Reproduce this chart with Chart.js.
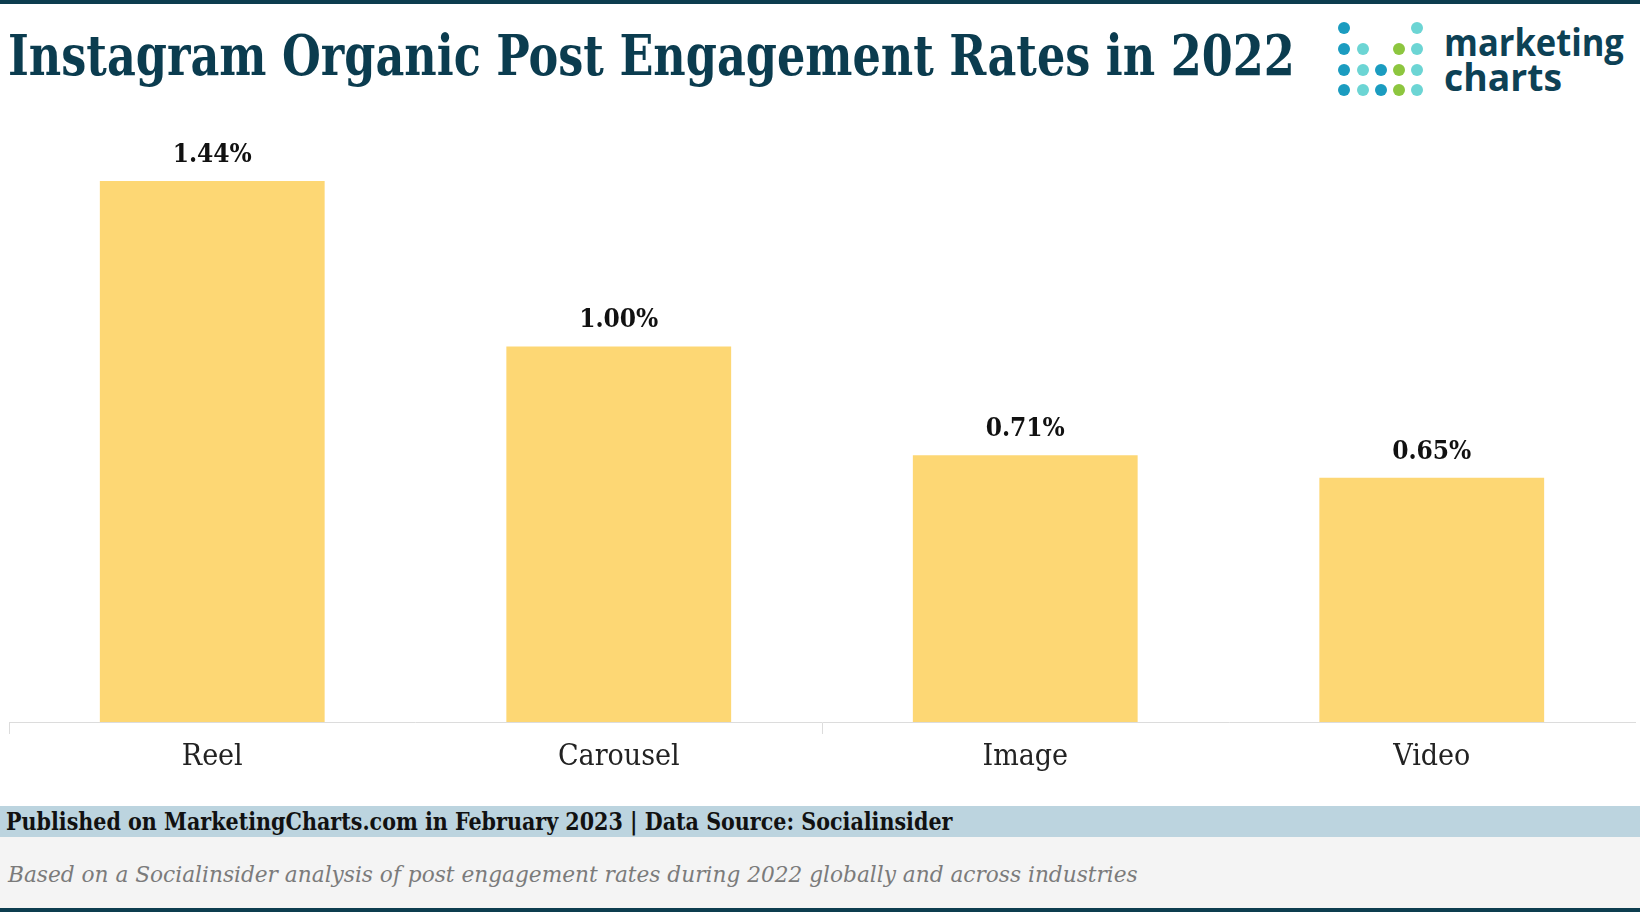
<!DOCTYPE html>
<html>
<head>
<meta charset="utf-8">
<script src="https://cdn.jsdelivr.net/npm/chart.js@4.4.0/dist/chart.umd.min.js"></script>
<style>
  body { margin: 0; width: 1640px; height: 912px; position: relative; overflow: hidden; background: #fff; }
  .abs { position: absolute; white-space: nowrap; }
  .slab { font-family: 'DejaVu Serif Condensed', 'DejaVu Serif', serif; }
  #title { left: 8px; top: 27px; font-size: 56px; line-height: 56px; font-weight: bold; color: #0b3c4f; transform-origin: 0 0; }
  .logoTxt { font-family: 'Open Sans', sans-serif; font-weight: bold; font-size: 37px; line-height: 37px; color: #0d4155; transform-origin: 0 0; }
  .dot { position: absolute; width: 12px; height: 12px; border-radius: 6px; }
  #pub { left: 6px; top: 806px; font-size: 24px; line-height: 31px; font-weight: bold; color: #111; transform-origin: 0 0; }
  #note { left: 8px; top: 859px; font-size: 23px; line-height: 30px; font-style: italic; color: #7b7b7b; transform-origin: 0 0; }
</style>
</head>
<body>
<div class="abs" style="left:0;top:0;width:1640px;height:4px;background:#0d3d4f"></div>
<div id="title" class="abs slab">Instagram Organic Post Engagement Rates in 2022</div>

<div id="logo"></div>
<div id="mk" class="abs logoTxt" style="left:1444px;top:23px">marketing</div>
<div id="ch" class="abs logoTxt" style="left:1444px;top:58px">charts</div>

<canvas id="myChart" width="1640" height="800" style="position:absolute;left:0;top:0"></canvas>

<div class="abs" style="left:0;top:806px;width:1640px;height:31px;background:#bcd4df"></div>
<div class="abs" style="left:0;top:837px;width:1640px;height:71px;background:#f4f4f4"></div>
<div id="pub" class="abs slab">Published on MarketingCharts.com in February 2023 | Data Source: Socialinsider</div>
<div id="note" class="abs slab">Based on a Socialinsider analysis of post engagement rates during 2022 globally and across industries</div>
<div class="abs" style="left:0;top:908px;width:1640px;height:4px;background:#0d3d4f"></div>

<script>
var categories = ['Reel', 'Carousel', 'Image', 'Video']
var rates = [1.44, 1.00, 0.71, 0.65]

// stretch a text line to the width it has in the original
function fit(id, w) {
  var el = document.getElementById(id)
  el.style.transform = 'scaleX(' + (w / el.offsetWidth) + ')'
}
fit('title', 1287)
fit('pub', 946)
fit('note', 1130)
fit('mk', 180)
fit('ch', 118)

// logo dots
var dotCols = [1344, 1363, 1381, 1399, 1417]
var dotRows = [28, 49, 70, 90]
var dotColors = ['#1b9cc0', '#6cd5d4', '#1b9cc0', '#8dc63f', '#6cd5d4']
var dotFrom = [0, 1, 2, 1, 0]
var logo = document.getElementById('logo')
for (let c = 0; c < dotCols.length; c++) {
  for (let r = dotFrom[c]; r < dotRows.length; r++) {
    let d = document.createElement('div')
    d.className = 'dot'
    d.style.left = (dotCols[c] - 6) + 'px'
    d.style.top = (dotRows[r] - 6) + 'px'
    d.style.background = dotColors[c]
    logo.appendChild(d)
  }
}

const valueLabels = {
  id: 'valueLabels',
  afterDatasetsDraw(chart) {
    const ctx = chart.ctx
    ctx.save()
    ctx.font = "bold 26px 'DejaVu Serif Condensed', 'DejaVu Serif', serif"
    ctx.fillStyle = '#111'
    ctx.textAlign = 'center'
    ctx.textBaseline = 'alphabetic'
    chart.getDatasetMeta(0).data.forEach((bar, i) => {
      ctx.fillText(rates[i].toFixed(2) + '%', bar.x, bar.y - 19)
    })
    ctx.restore()
  }
}

const ctx = document.getElementById('myChart').getContext('2d')
const myChart = new Chart(ctx, {
  type: 'bar',
  data: {
    labels: categories,
    datasets: [{
      data: rates,
      backgroundColor: '#fdd774',
      borderWidth: 0,
      barPercentage: 0.553,
      categoryPercentage: 1
    }]
  },
  options: {
    responsive: false,
    animation: false,
    devicePixelRatio: 1,
    layout: { padding: { left: 9, right: 5, top: 121, bottom: 20 } },
    plugins: {
      legend: { display: false },
      tooltip: { enabled: false }
    },
    scales: {
      y: { display: false, min: 0, max: 1.6 },
      x: {
        border: { display: true, color: '#dcdcdc', width: 1 },
        grid: {
          drawOnChartArea: false,
          tickLength: 12,
          color: (c) => (c.index % 2 === 0 ? '#dcdcdc' : 'rgba(0,0,0,0)')
        },
        ticks: {
          padding: 5,
          color: '#222',
          font: { family: "'DejaVu Serif Condensed', 'DejaVu Serif', serif", size: 30 }
        }
      }
    }
  },
  plugins: [valueLabels]
})
</script>
</body>
</html>
